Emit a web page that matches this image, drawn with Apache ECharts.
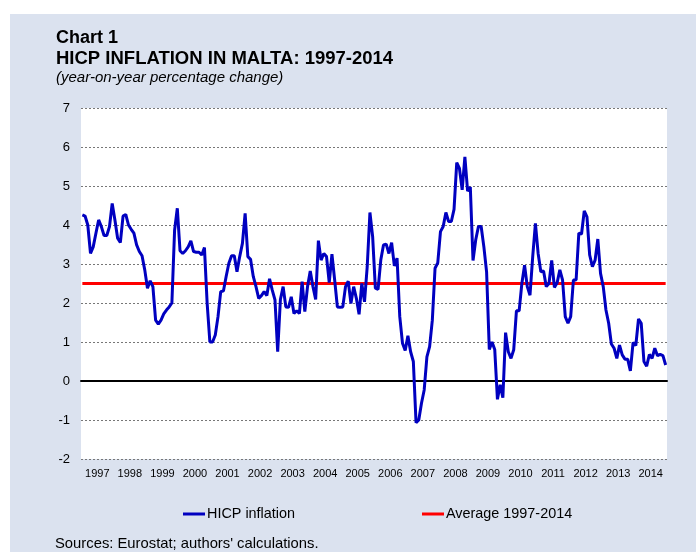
<!DOCTYPE html>
<html>
<head>
<meta charset="utf-8">
<script src="https://cdn.jsdelivr.net/npm/echarts@6/dist/echarts.min.js"></script>
<style>
  html, body { margin: 0; padding: 0; background: #fff; }
  #chart-container { position: absolute; left: 10px; top: 14px; width: 686px; height: 538px; }
</style>
</head>
<body>
<div id="chart-container"></div>
<script>
const years = ['1997', '1998', '1999', '2000', '2001', '2002', '2003', '2004', '2005',
  '2006', '2007', '2008', '2009', '2010', '2011', '2012', '2013', '2014'];

// monthly HICP inflation
const hicp = [
  4.26, 4.23, 4.0, 3.27, 3.44, 3.79, 4.13, 3.96, 3.73, 3.73, 3.96, 4.55,
  4.13, 3.66, 3.55, 4.23, 4.27, 4.0, 3.89, 3.79, 3.49, 3.32, 3.21, 2.85,
  2.38, 2.57, 2.42, 1.56, 1.46, 1.56, 1.72, 1.82, 1.9, 2.0, 3.87, 4.43,
  3.34, 3.27, 3.34, 3.44, 3.59, 3.32, 3.3, 3.3, 3.23, 3.42, 1.99, 1.0,
  1.0, 1.18, 1.65, 2.29, 2.31, 2.68, 3.02, 3.21, 3.21, 2.8, 3.19, 3.53,
  4.3, 3.19, 3.12, 2.68, 2.42, 2.12, 2.19, 2.29, 2.19, 2.62, 2.33, 2.08,
  0.75, 2.09, 2.42, 1.9, 1.89, 2.16, 1.73, 1.8, 1.73, 2.55, 1.78, 2.42,
  2.82, 2.42, 2.09, 3.6, 3.1, 3.27, 3.19, 2.52, 3.25, 2.59, 1.9, 1.89,
  1.9, 2.42, 2.56, 1.99, 2.42, 2.12, 1.71, 2.5, 2.03, 2.93, 4.32, 3.7,
  2.38, 2.35, 3.1, 3.49, 3.51, 3.27, 3.55, 2.95, 3.15, 1.65, 0.97, 0.78,
  1.16, 0.75, 0.5, -1.07, -1.0, -0.57, -0.23, 0.62, 0.88, 1.56, 2.89, 3.03,
  3.83, 3.96, 4.32, 4.09, 4.09, 4.4, 5.6, 5.45, 4.9, 5.75, 4.87, 4.97,
  3.09, 3.62, 3.96, 3.96, 3.44, 2.8, 0.81, 1.0, 0.81, -0.47, -0.1, -0.43,
  1.24, 0.75, 0.58, 0.8, 1.8, 1.8, 2.5, 2.97, 2.42, 2.2, 3.19, 4.04,
  3.27, 2.8, 2.82, 2.42, 2.5, 3.09, 2.4, 2.52, 2.85, 2.59, 1.65, 1.48,
  1.65, 2.59, 2.59, 3.79, 3.77, 4.36, 4.21, 3.23, 2.93, 3.1, 3.64, 2.76,
  2.42, 1.82, 1.48, 0.95, 0.84, 0.58, 0.92, 0.67, 0.56, 0.56, 0.26, 0.99,
  0.91, 1.59, 1.48, 0.5, 0.38, 0.68, 0.58, 0.84, 0.65, 0.68, 0.65, 0.41
];

const average = 2.5;

const months = [];
years.forEach((y) => {
  for (let m = 1; m <= 12; m++) months.push(y + '-' + m);
});
const averageLine = months.map(() => average);

const font = 'Arial, "Liberation Sans", sans-serif';

const textEl = (text, x, y, style) => ({
  type: 'text', x: x, y: y,
  style: { text: text, font: style + ' ' + font, fill: '#000', verticalAlign: 'middle' }
});

const chart = echarts.init(document.getElementById('chart-container'), null, { renderer: 'canvas' });

chart.setOption({
  backgroundColor: '#dbe2ef',
  animation: false,
  textStyle: { fontFamily: font },
  graphic: [
    textEl('Chart 1', 46, 24, 'bold 18px'),
    textEl('HICP INFLATION IN MALTA: 1997-2014', 46, 44.5, 'bold 18.5px'),
    textEl('(year-on-year percentage change)', 46, 63.5, 'italic 15px'),
    textEl("Sources: Eurostat; authors' calculations.", 45, 530, '14.8px')
  ],
  grid: {
    left: 71, top: 94, width: 586, height: 351,
    show: true, backgroundColor: '#fff', borderWidth: 0
  },
  legend: [
    {
      data: ['HICP inflation'], left: 168, top: 488,
      icon: 'rect', itemWidth: 22, itemHeight: 3, itemGap: 4,
      textStyle: { fontSize: 14.4, color: '#000', fontFamily: font, padding: [0, 0, 0, -3] }
    },
    {
      data: ['Average 1997-2014'], left: 407, top: 488,
      icon: 'rect', itemWidth: 22, itemHeight: 3, itemGap: 4,
      textStyle: { fontSize: 14.4, color: '#000', fontFamily: font, padding: [0, 0, 0, -3] }
    }
  ],
  xAxis: [
    {
      type: 'category', data: months, boundaryGap: true,
      axisLine: { show: true, onZero: true, lineStyle: { color: '#000', width: 2 } },
      axisTick: { show: false }, axisLabel: { show: false }, splitLine: { show: false }
    },
    {
      type: 'category', data: years, boundaryGap: true, position: 'bottom',
      axisLine: { show: false, onZero: false }, axisTick: { show: false },
      axisLabel: { color: '#000', fontSize: 11, margin: 9, interval: 0 },
      splitLine: { show: false }
    }
  ],
  yAxis: {
    type: 'value', min: -2, max: 7, interval: 1,
    axisLine: { show: false }, axisTick: { show: false },
    axisLabel: { color: '#000', fontSize: 13, margin: 11 },
    splitLine: { show: true, lineStyle: { color: '#777', type: [2, 2], width: 1 } }
  },
  series: [
    {
      name: 'HICP inflation', type: 'line', data: hicp, xAxisIndex: 0,
      symbol: 'none', smooth: false, z: 3,
      lineStyle: { color: '#0000c0', width: 3 }, itemStyle: { color: '#0000c0' }
    },
    {
      name: 'Average 1997-2014', type: 'line', data: averageLine, xAxisIndex: 0,
      symbol: 'none', z: 2,
      lineStyle: { color: '#ff0000', width: 3 }, itemStyle: { color: '#ff0000' }
    }
  ]
});
</script>
</body>
</html>
